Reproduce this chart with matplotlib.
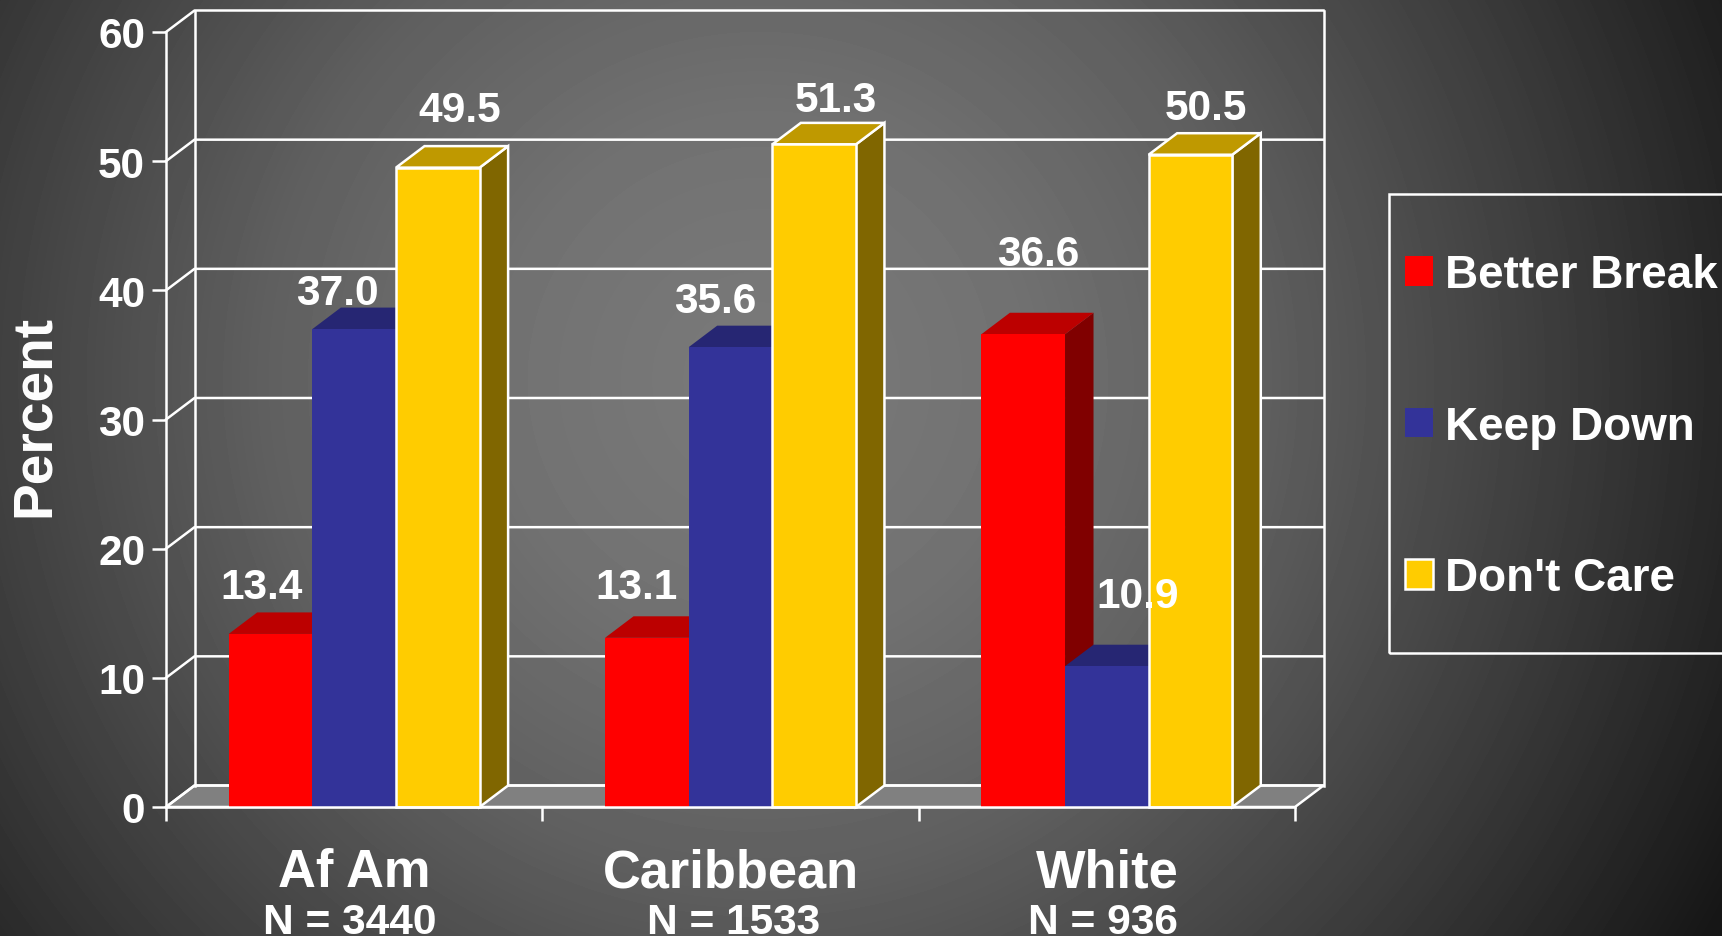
#!/usr/bin/env python3
# Pseudo-3D grouped bars on a dark radial background
import numpy as np
import matplotlib
matplotlib.use('Agg')
import matplotlib.pyplot as plt
from matplotlib.patches import Polygon, Patch, Rectangle

plt.rcParams.update({'font.family': ['Liberation Sans', 'DejaVu Sans'], 'font.weight': 'bold'})

groups = ['Af Am', 'Caribbean', 'White']
group_n = ['N = 3440', 'N = 1533', 'N = 936']
series = ['Better Break', 'Keep Down', "Don't Care"]
better_break = [13.4, 13.1, 36.6]
keep_down = [37.0, 35.6, 10.9]
dont_care = [49.5, 51.3, 50.5]
y_ticks = [0, 10, 20, 30, 40, 50, 60]

W, H = 1722, 937
# colours: front, top, side
colours = [('#FF0000', '#BC0000', '#800000'),
           ('#333399', '#262673', '#1A1A4D'),
           ('#FFCC00', '#BF9900', '#806600')]
outlined = [False, False, True]
# hand placed value labels, pixel offset from bar top centre to text baseline
label_off = [[(-9, 36), (-10, 40), (15, 69)],
             [(-17, 25), (-15, 35), (31, 59)],
             [(22, 47), (22, 33), (15, 36)]]
n_off = [-4, 3, -4]

DX = 28.5 / (1129 / 3)   # depth in category units
DY = 21.5 / (775 / 60)   # depth in percent units
BAR_W = 1 / 4.5
LW = 1.8

fig = plt.figure(figsize=(W / 100, H / 100), dpi=100)

# background
bg = fig.add_axes([0, 0, 1, 1], zorder=-1)
yy, xx = np.mgrid[0:H, 0:W]
dist = np.hypot(xx - 760, yy - 380)
bg.imshow(np.interp(dist, [0, 250, 500, 800, 1100], [122, 114, 95, 60, 22]), cmap='gray',
          vmin=0, vmax=255, aspect='auto')
bg.axis('off')

ax = fig.add_axes([166 / W, 1 - 808 / H, 1129 / W, 775 / H])
ax.patch.set_alpha(0)
ax.set_xlim(0, 3)
ax.set_ylim(0, 60)
for s in ['top', 'right']:
    ax.spines[s].set_visible(False)
for s in ['left', 'bottom']:
    ax.spines[s].set_color('white')
    ax.spines[s].set_linewidth(LW)
    ax.spines[s].set_zorder(9)

# floor and walls
ax.add_patch(Polygon([(0, 0), (3, 0), (3 + DX, DY), (DX, DY)], fc='#808080', ec='white',
                     lw=LW, clip_on=False, zorder=1))
for v in y_ticks:
    ax.plot([0, DX, 3 + DX], [v, v + DY, v + DY], color='white', lw=LW, clip_on=False, zorder=1.5)
for x in [DX, 3 + DX]:
    ax.plot([x, x], [DY, 60 + DY], color='white', lw=LW, clip_on=False, zorder=1.5)

# bars
for i, vals in enumerate([better_break, keep_down, dont_care]):
    front, top, side = colours[i]
    ec = 'white' if outlined[i] else 'none'
    z = 3 + i
    for g, v in enumerate(vals):
        x0 = g + 0.5 + (i - 1.5) * BAR_W
        x1 = x0 + BAR_W
        ax.add_patch(Polygon([(x1, 0), (x1 + DX, DY), (x1 + DX, v + DY), (x1, v)], fc=side, ec=ec,
                             lw=LW, clip_on=False, zorder=z))
        ax.add_patch(Polygon([(x0, v), (x1, v), (x1 + DX, v + DY), (x0 + DX, v + DY)], fc=top, ec=ec,
                             lw=LW, clip_on=False, zorder=z))
        ax.bar(x0, v, BAR_W, align='edge', color=front, edgecolor=ec, linewidth=LW, clip_on=False, zorder=z)
        ax.annotate(f'{v:.1f}', (x0 + BAR_W / 2, v), xytext=label_off[i][g], textcoords='offset pixels',
                    ha='center', va='baseline', color='white', fontsize=30.6, fontweight='bold', zorder=10)

# axes ticks and labels
ax.set_yticks(y_ticks)
ax.set_xticks([0, 1, 2, 3])
ax.set_xticklabels([])
ax.tick_params(axis='both', which='major', color='white', width=LW, length=10)
ax.tick_params(axis='y', labelcolor='white', labelsize=30.5, pad=5)
for t in ax.get_yticklabels():
    t.set_fontweight('bold')
tr = ax.get_xaxis_transform()
for g in range(3):
    ax.annotate(groups[g], (g + 0.5, 0), xycoords=tr, xytext=(0, -79.5), textcoords='offset pixels',
                ha='center', va='baseline', color='white', fontsize=37.8, fontweight='bold')
    ax.annotate(group_n[g], (g + 0.5, 0), xycoords=tr, xytext=(n_off[g], -126), textcoords='offset pixels',
                ha='center', va='baseline', color='white', fontsize=30.6, fontweight='bold')
fig.text(35 / W, 1 - 416 / H, 'Percent', rotation=90, ha='center', va='center', color='white',
         fontsize=39.7, fontweight='bold')

# legend box runs off the right edge
fig.add_artist(Rectangle((1389 / W, 1 - 654 / H), 400 / W, 459 / H, transform=fig.transFigure,
                         fc='none', ec='white', lw=LW))
handles = [Patch(fc=colours[i][0], ec='white' if outlined[i] else 'none', lw=LW) for i in range(3)]
fig.legend(handles, series, loc='upper left', bbox_to_anchor=(1404.6 / W, 1 - 254.4 / H), frameon=False,
           fontsize=33, labelcolor='white', borderpad=0, borderaxespad=0, labelspacing=2.34,
           handlelength=0.62, handleheight=0.62, handletextpad=0.27)

fig.savefig('out.png', dpi=100)
